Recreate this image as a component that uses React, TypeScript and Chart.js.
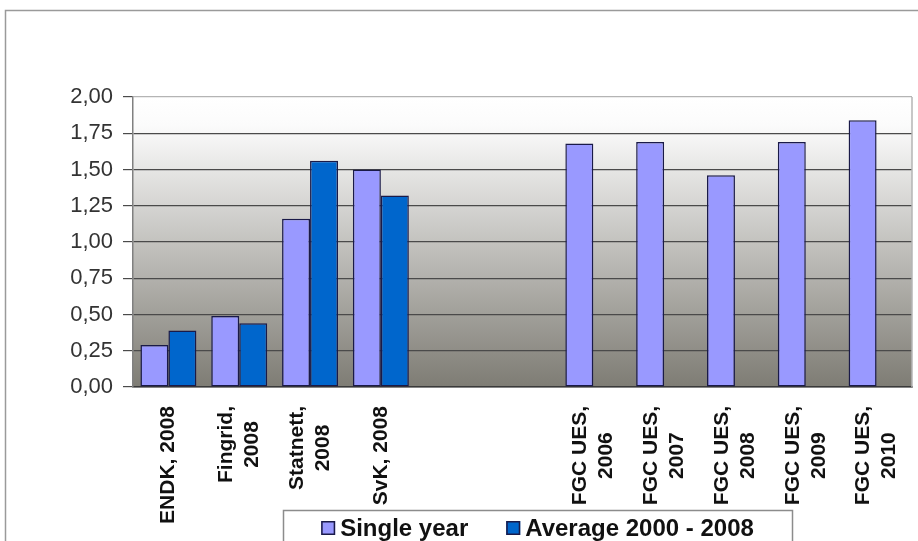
import React, { useEffect, useRef } from "react";
import { Chart, registerables } from "chart.js";

Chart.register(...registerables);

// Category labels, one entry per line of the rotated axis label
const categories: string[][] = [
  ["ENDK, 2008"],
  ["Fingrid,", "2008"],
  ["Statnett,", "2008"],
  ["SvK, 2008"],
  [""],
  [""],
  ["FGC UES,", "2006"],
  ["FGC UES,", "2007"],
  ["FGC UES,", "2008"],
  ["FGC UES,", "2009"],
  ["FGC UES,", "2010"],
];

const seriesNames = ["Single year", "Average 2000 - 2008"];

const singleYear: (number | null)[] = [0.29, 0.49, 1.16, 1.5, null, null, 1.68, 1.69, 1.46, 1.69, 1.84];
const average2000to2008: (number | null)[] = [0.39, 0.44, 1.56, 1.32, null, null, null, null, null, null, null];

const yMin = 0;
const yMax = 2;
const yStep = 0.25;

const FAMILY = "'Liberation Sans', Arial, Helvetica, sans-serif";
const LIGHT = "#9999FF";
const DARK = "#0066CC";
const EDGE = "#1a1a48";

const formatTick = (v: number) => v.toFixed(2).replace(".", ",");

// Outer frame and the white-to-gray plot background
const backgroundPlugin = {
  id: "plotBackground",
  beforeDraw(chart: any) {
    const { ctx, chartArea } = chart;
    ctx.save();
    ctx.strokeStyle = "#9a9a9a";
    ctx.lineWidth = 1.5;
    ctx.beginPath();
    ctx.moveTo(5.5, chart.height);
    ctx.lineTo(5.5, 10.5);
    ctx.lineTo(chart.width, 10.5);
    ctx.stroke();

    const g = ctx.createLinearGradient(0, chartArea.top, 0, chartArea.bottom);
    g.addColorStop(0, "#ffffff");
    g.addColorStop(0.1, "#fbfbfb");
    g.addColorStop(1, "#7e7c74");
    ctx.fillStyle = g;
    ctx.fillRect(chartArea.left, chartArea.top, chartArea.right - chartArea.left, chartArea.bottom - chartArea.top);
    ctx.restore();
  },
};

// Right plot border, rotated category labels and the framed legend
const overlayPlugin = {
  id: "overlay",
  afterDraw(chart: any) {
    const { ctx, chartArea } = chart;
    const xScale = chart.scales.x;
    ctx.save();

    ctx.strokeStyle = "#b4b4b4";
    ctx.lineWidth = 1.5;
    ctx.beginPath();
    ctx.moveTo(chartArea.right, chartArea.top);
    ctx.lineTo(chartArea.right, chartArea.bottom);
    ctx.stroke();

    // category labels, read bottom-to-top, lines centred on each other
    ctx.font = `bold 21px ${FAMILY}`;
    ctx.fillStyle = "#111111";
    ctx.textAlign = "center";
    ctx.textBaseline = "middle";
    const lineGap = 26;
    categories.forEach((lines, i) => {
      const x = xScale.getPixelForValue(i);
      const maxW = Math.max(...lines.map((l) => ctx.measureText(l).width));
      const cy = chartArea.bottom + 19 + maxW / 2;
      lines.forEach((line, j) => {
        const off = (j - (lines.length - 1) / 2) * lineGap;
        ctx.save();
        ctx.translate(x + off, cy);
        ctx.rotate(-Math.PI / 2);
        ctx.fillText(line, 0, 0);
        ctx.restore();
      });
    });

    // legend
    const boxL = 283;
    const boxT = 510;
    const boxW = 509;
    ctx.fillStyle = "#ffffff";
    ctx.fillRect(boxL, boxT, boxW, 60);
    ctx.strokeStyle = "#8c8c8c";
    ctx.lineWidth = 1.5;
    ctx.strokeRect(boxL + 0.5, boxT + 0.5, boxW, 60);

    ctx.font = `bold 24px ${FAMILY}`;
    ctx.textAlign = "left";
    ctx.textBaseline = "middle";
    const marker = 14;
    const markerGap = 5;
    const itemGap = 38;
    const items = chart.data.datasets.map((ds: any) => ({
      label: ds.label as string,
      fill: ds.backgroundColor as string,
      w: ctx.measureText(ds.label).width,
    }));
    const total =
      items.reduce((s: number, it: any) => s + marker + markerGap + it.w, 0) + itemGap * (items.length - 1);
    let x = boxL + (boxW - total) / 2;
    const cy = 528;
    items.forEach((it: any) => {
      ctx.fillStyle = it.fill;
      ctx.fillRect(x, cy - marker / 2, marker, marker);
      ctx.strokeStyle = EDGE;
      ctx.lineWidth = 1.5;
      ctx.strokeRect(x + 0.75, cy - marker / 2 + 0.75, marker - 1.5, marker - 1.5);
      x += marker + markerGap;
      ctx.fillStyle = "#111111";
      ctx.fillText(it.label, x, cy + 1);
      x += it.w + itemGap;
    });

    ctx.restore();
  },
};

export default function App() {
  const canvasRef = useRef<HTMLCanvasElement>(null);

  useEffect(() => {
    document.body.style.margin = "0";
    const canvas = canvasRef.current;
    if (!canvas) return;

    const chart = new Chart(canvas, {
      type: "bar",
      data: {
        labels: categories.map((l) => l.join(" ")),
        datasets: [
          {
            label: seriesNames[0],
            data: singleYear,
            backgroundColor: LIGHT,
            borderColor: EDGE,
            borderWidth: 1.5,
            borderSkipped: false,
            categoryPercentage: 0.79,
            barPercentage: 1.0,
          },
          {
            label: seriesNames[1],
            data: average2000to2008,
            backgroundColor: DARK,
            borderColor: EDGE,
            borderWidth: 1.5,
            borderSkipped: false,
            categoryPercentage: 0.79,
            barPercentage: 1.0,
          },
        ],
      },
      options: {
        responsive: false,
        animation: false,
        devicePixelRatio: 1,
        layout: { padding: { top: 97, right: 6, left: 0, bottom: 0 } },
        plugins: {
          legend: { display: false },
          tooltip: { enabled: false },
        },
        scales: {
          x: {
            ticks: { display: false },
            grid: { display: false, drawTicks: false },
            border: { display: true, color: "#3a3a3a", width: 1.5 },
            afterFit: (s: any) => {
              s.height = 154;
            },
          },
          y: {
            min: yMin,
            max: yMax,
            ticks: {
              stepSize: yStep,
              padding: 10,
              color: "#333333",
              font: { family: FAMILY, size: 22 },
              callback: (v: any) => formatTick(Number(v)),
            },
            grid: {
              color: (c: any) => (c.tick && c.tick.value === yMax ? "#b4b4b4" : "#4a4a4a"),
              tickColor: "#4a4a4a",
              tickLength: 10,
              lineWidth: 1.2,
            },
            border: { display: true, color: "#808080", width: 1.5 },
            afterFit: (s: any) => {
              s.width = 133;
            },
          },
        },
      },
      plugins: [backgroundPlugin, overlayPlugin],
    });

    return () => chart.destroy();
  }, []);

  return (
    <div style={{ width: 918, height: 541, background: "#ffffff" }}>
      <canvas ref={canvasRef} width={918} height={541} style={{ display: "block" }} />
    </div>
  );
}
